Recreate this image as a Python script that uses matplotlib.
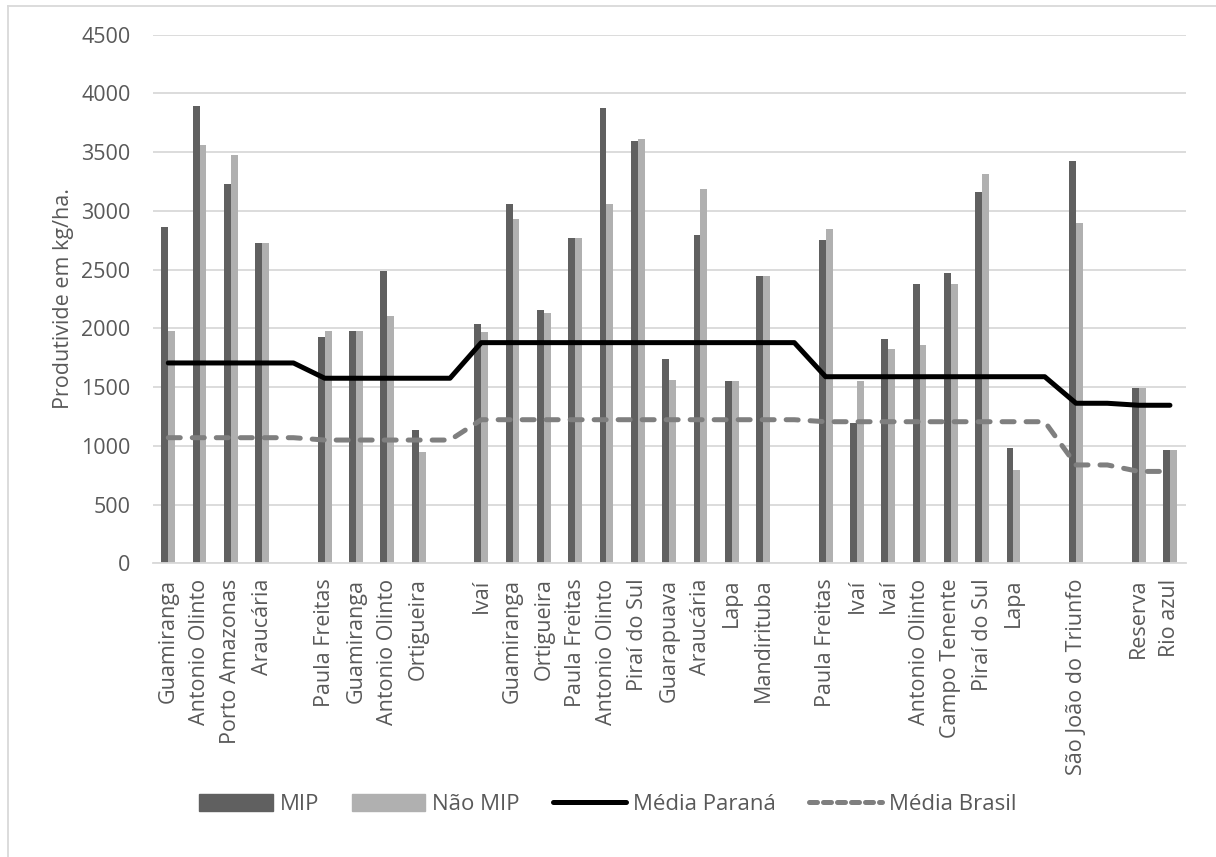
import matplotlib.pyplot as plt
import numpy as np
from matplotlib.lines import Line2D

plt.rcParams["font.family"] = ["Open Sans", "DejaVu Sans"]

# empty strings mark the gaps between groups (no bars, lines continue)
categories = [
    "Guamiranga", "Antonio Olinto", "Porto Amazonas", "Araucária", "",
    "Paula Freitas", "Guamiranga", "Antonio Olinto", "Ortigueira", "",
    "Ivaí", "Guamiranga", "Ortigueira", "Paula Freitas", "Antonio Olinto",
    "Piraí do Sul", "Guarapuava", "Araucária", "Lapa", "Mandirituba", "",
    "Paula Freitas", "Ivaí", "Ivaí", "Antonio Olinto", "Campo Tenente",
    "Piraí do Sul", "Lapa", "", "São João do Triunfo", "", "Reserva", "Rio azul",
]
mip = [
    2865, 3895, 3228, 2723, np.nan,
    1929, 1975, 2490, 1134, np.nan,
    2037, 3058, 2156, 2771, 3872, 3591, 1736, 2794, 1551, 2448, np.nan,
    2751, 1191, 1911, 2377, 2468, 3157, 979, np.nan,
    3427, np.nan, 1489, 964,
]
nao_mip = [
    1975, 3560, 3475, 2723, np.nan,
    1977, 1975, 2105, 950, np.nan,
    1971, 2928, 2133, 2771, 3055, 3611, 1560, 3188, 1551, 2448, np.nan,
    2845, 1551, 1821, 1858, 2377, 3313, 794, np.nan,
    2894, np.nan, 1489, 964,
]
media_parana = [
    1705, 1705, 1705, 1705, 1705,
    1575, 1575, 1575, 1575, 1575,
    1878, 1878, 1878, 1878, 1878, 1878, 1878, 1878, 1878, 1878, 1878,
    1588, 1588, 1588, 1588, 1588, 1588, 1588, 1588,
    1362, 1362, 1345, 1345,
]
media_brasil = [
    1069, 1069, 1069, 1069, 1069,
    1049, 1049, 1049, 1049, 1049,
    1222, 1222, 1222, 1222, 1222, 1222, 1222, 1222, 1222, 1222, 1222,
    1205, 1205, 1205, 1205, 1205, 1205, 1205, 1205,
    837, 837, 782, 782,
]

MIP_COLOR = "#606060"
NAO_COLOR = "#b0b0b0"
PR_COLOR = "#000000"
BR_COLOR = "#7f7f7f"
TEXT_COLOR = "#595959"
GRID_COLOR = "#d9d9d9"

fig = plt.figure(figsize=(12.16, 8.57), dpi=100)
ax = fig.add_axes([0.1255, 0.3427, 0.8495, 0.617])

x = np.arange(len(categories))
w = 0.22
ax.bar(x - w / 2, mip, width=w, color=MIP_COLOR, zorder=2)
ax.bar(x + w / 2, nao_mip, width=w, color=NAO_COLOR, zorder=2)
ax.plot(x, media_parana, color=PR_COLOR, lw=3.6, solid_capstyle="round",
        solid_joinstyle="round", zorder=3)
ax.plot(x, media_brasil, color=BR_COLOR, lw=3.6, dashes=(2.4, 2.4),
        dash_capstyle="round", dash_joinstyle="round", zorder=3)

ax.set_xlim(-0.5, len(categories) - 0.5)
ax.set_ylim(0, 4500)
ax.set_yticks(np.arange(0, 4501, 500))
ax.set_xticks(x)
ax.set_xticklabels(categories, rotation=90, fontsize=15.5, color=TEXT_COLOR)
ax.tick_params(axis="y", labelsize=15.5, labelcolor=TEXT_COLOR, length=0, pad=16)
ax.tick_params(axis="x", length=0, pad=11)
ax.set_ylabel("Produtivide em kg/ha.", fontsize=15.5, color=TEXT_COLOR, labelpad=5)

ax.grid(axis="y", color=GRID_COLOR, lw=1.3, zorder=0)
ax.set_axisbelow(True)
for s in ["top", "right", "left"]:
    ax.spines[s].set_visible(False)
ax.spines["bottom"].set_color(GRID_COLOR)
ax.spines["bottom"].set_linewidth(1.3)

handles = [
    plt.Rectangle((0, 0), 1, 1, color=MIP_COLOR),
    plt.Rectangle((0, 0), 1, 1, color=NAO_COLOR),
    Line2D([], [], color=PR_COLOR, lw=3.6, solid_capstyle="round"),
    Line2D([], [], color=BR_COLOR, lw=3.6, dashes=(1.6, 1.2), dash_capstyle="round"),
]
leg = fig.legend(handles, ["MIP", "Não MIP", "Média Paraná", "Média Brasil"],
                 loc="center", bbox_to_anchor=(0.5, 0.061), ncol=4, frameon=False,
                 fontsize=16, handlelength=3.3, handleheight=0.75,
                 handletextpad=0.3, columnspacing=1.5)
for t in leg.get_texts():
    t.set_color(TEXT_COLOR)

# outer chart frame (top and left edges visible)
fig.add_artist(Line2D([7.5 / 1216, 7.5 / 1216], [0, 1 - 6 / 857],
                      transform=fig.transFigure, color=GRID_COLOR, lw=1.3))
fig.add_artist(Line2D([7.5 / 1216, 1], [1 - 6 / 857, 1 - 6 / 857],
                      transform=fig.transFigure, color=GRID_COLOR, lw=1.3))

fig.savefig("out.png", dpi=100)
